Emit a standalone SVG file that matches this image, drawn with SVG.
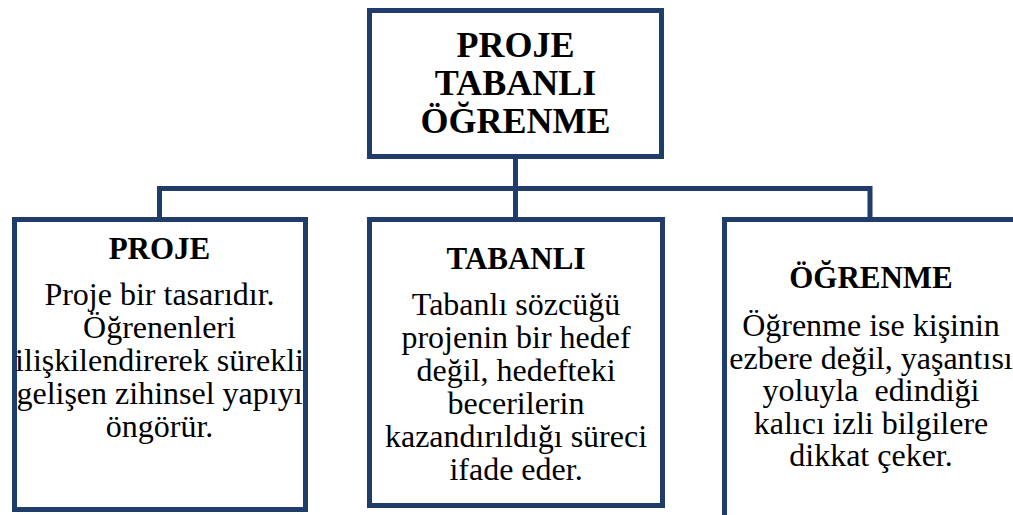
<svg xmlns="http://www.w3.org/2000/svg" width="1013" height="515" viewBox="0 0 1013 515">
  <style>
    .box { fill: #ffffff; stroke: #1f3c6b; stroke-width: 5; }
    .conn { fill: none; stroke: #1f3c6b; stroke-width: 5; stroke-linejoin: miter; }
    .title { font-family: "Liberation Serif", "Times New Roman", serif; font-weight: bold; font-size: 36px; fill: #000; text-anchor: middle; }
    .head { font-family: "Liberation Serif", "Times New Roman", serif; font-weight: bold; font-size: 31px; fill: #000; text-anchor: middle; }
    .body { font-family: "Liberation Serif", "Times New Roman", serif; font-size: 32px; fill: #000; text-anchor: middle; }
  </style>
  <rect width="1013" height="515" fill="#ffffff"/>
  <g id="connectors">
    <path class="conn" d="M515.5,159 V217"/>
    <path class="conn" d="M159.5,217 V188.5 H870 V217"/>
  </g>
  <g id="root">
    <rect class="box" x="369.5" y="10.5" width="292" height="146"/>
    <text class="title" x="515.5" y="57">PROJE</text>
    <text class="title" x="515.5" y="95">TABANLI</text>
    <text class="title" x="515.5" y="133">ÖĞRENME</text>
  </g>
  <g id="proje">
    <rect class="box" x="14.5" y="219.5" width="291" height="290"/>
    <text class="head" x="159.5" y="259">PROJE</text>
    <text class="body" x="159.5" y="305">Proje bir tasarıdır.</text>
    <text class="body" x="159.5" y="338">Öğrenenleri</text>
    <text class="body" x="159.5" y="371">ilişkilendirerek sürekli</text>
    <text class="body" x="159.5" y="404">gelişen zihinsel yapıyı</text>
    <text class="body" x="159.5" y="437">öngörür.</text>
  </g>
  <g id="tabanli">
    <rect class="box" x="369.5" y="219.5" width="293" height="286"/>
    <text class="head" x="516" y="269">TABANLI</text>
    <text class="body" x="516" y="315">Tabanlı sözcüğü</text>
    <text class="body" x="516" y="348">projenin bir hedef</text>
    <text class="body" x="516" y="381">değil, hedefteki</text>
    <text class="body" x="516" y="414">becerilerin</text>
    <text class="body" x="516" y="447">kazandırıldığı süreci</text>
    <text class="body" x="516" y="480">ifade eder.</text>
  </g>
  <g id="ogrenme">
    <rect class="box" x="724.5" y="219.5" width="293" height="300"/>
    <text class="head" x="871" y="288">ÖĞRENME</text>
    <text class="body" x="871" y="336">Öğrenme ise kişinin</text>
    <text class="body" x="871" y="368.5">ezbere değil, yaşantısı</text>
    <text class="body" x="871" y="401" xml:space="preserve">yoluyla  edindiği</text>
    <text class="body" x="871" y="433.5">kalıcı izli bilgilere</text>
    <text class="body" x="871" y="466">dikkat çeker.</text>
  </g>
</svg>
